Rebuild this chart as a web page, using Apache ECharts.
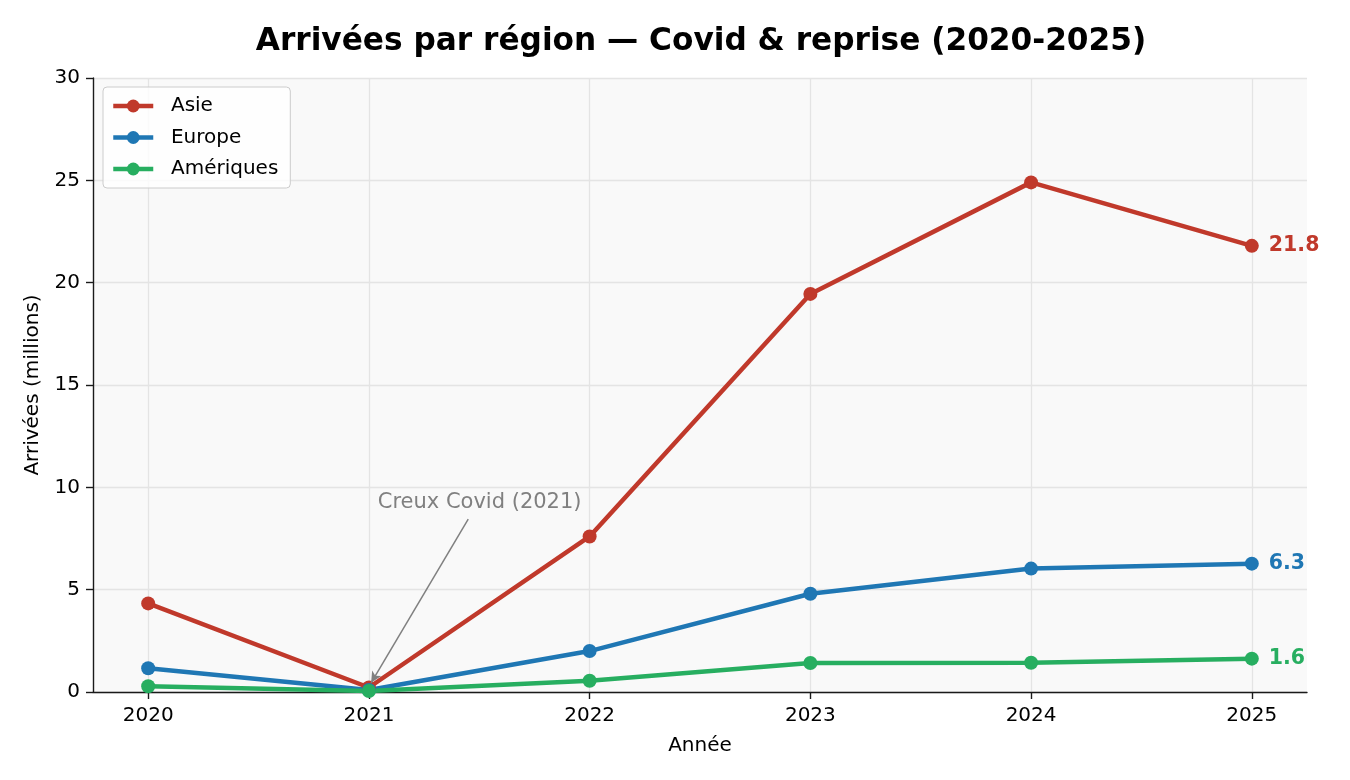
<!DOCTYPE html>
<html>
<head>
<meta charset="utf-8">
<script src="https://cdn.jsdelivr.net/npm/echarts@6/dist/echarts.min.js"></script>
<style>
html,body{margin:0;padding:0;background:#fff;}
#chart{width:1350px;height:780px;}
</style>
</head>
<body>
<div id="chart"></div>
<script>
const years = [2020, 2021, 2022, 2023, 2024, 2025];
const asie = [4.33, 0.22, 7.6, 19.45, 24.9, 21.8];
const europe = [1.16, 0.1, 2.0, 4.8, 6.03, 6.27];
const ameriques = [0.28, 0.05, 0.55, 1.42, 1.43, 1.63];
const seriesNames = ['Asie', 'Europe', 'Amériques'];
const seriesColors = ['#c0392b', '#1f77b4', '#27ae60'];
const annotationText = 'Creux Covid (2021)';
const annotationTextPos = [2021.04, 9.25];
const annotationArrowFrom = [2021.45, 8.45];
const annotationArrowTo = [2021.01, 0.45];

const FONT = 'DejaVu Sans';
const chart = echarts.init(document.getElementById('chart'), null, {renderer: 'canvas'});

function pairs(vals) { return years.map((y, i) => [y, vals[i]]); }

function makeSeries(name, vals, color, extra) {
  return Object.assign({
    name: name,
    type: 'line',
    data: pairs(vals),
    symbol: 'circle',
    symbolSize: 14,
    showSymbol: true,
    lineStyle: {width: 4.5, color: color},
    itemStyle: {color: color},
    emphasis: {disabled: true},
    animation: false,
    z: 3,
    endLabel: {
      show: true,
      formatter: p => p.value[1].toFixed(1),
      color: color,
      fontFamily: FONT,
      fontWeight: 'bold',
      fontSize: 20.5,
      distance: 17
    }
  }, extra || {});
}

const option = {
  backgroundColor: '#ffffff',
  animation: false,
  title: {
    text: 'Arrivées par région — Covid & reprise (2020-2025)',
    left: 696,
    textAlign: 'center',
    top: 21,
    textStyle: {fontFamily: FONT, fontWeight: 'bold', fontSize: 31.2, color: '#000'}
  },
  grid: {
    left: 93, right: 43, top: 78, bottom: 88,
    show: true, backgroundColor: '#f9f9f9', borderWidth: 0
  },
  legend: {
    left: 103, top: 87,
    orient: 'vertical',
    data: seriesNames,
    itemWidth: 40, itemHeight: 16, itemGap: 9.5,
    padding: [8, 12, 8, 8],
    backgroundColor: 'rgba(255,255,255,0.8)',
    borderColor: '#cccccc', borderWidth: 1, borderRadius: 4,
    lineStyle: {width: 4.5},
    formatter: n => '  ' + n,
    textStyle: {fontFamily: FONT, fontSize: 20, color: '#000', lineHeight: 22}
  },
  xAxis: {
    type: 'value',
    min: 2019.75, max: 2025.25,
    name: 'Année',
    nameLocation: 'middle',
    nameGap: 44,
    nameTextStyle: {fontFamily: FONT, fontSize: 20, color: '#000'},
    axisLine: {show: true, lineStyle: {color: '#1a1a1a', width: 1.4}},
    axisTick: {show: true, customValues: years, length: 7, lineStyle: {color: '#1a1a1a', width: 1.4}},
    axisLabel: {customValues: years, formatter: v => String(v), margin: 14, fontFamily: FONT, fontSize: 20, color: '#000'},
    splitLine: {show: true, lineStyle: {color: '#e4e4e4', width: 1.3}}
  },
  yAxis: {
    type: 'value',
    min: 0, max: 30, interval: 5,
    name: 'Arrivées (millions)',
    nameLocation: 'middle',
    nameGap: 50,
    nameTextStyle: {fontFamily: FONT, fontSize: 20, color: '#000'},
    axisLine: {show: true, lineStyle: {color: '#1a1a1a', width: 1.4}},
    axisTick: {show: true, length: 7, lineStyle: {color: '#1a1a1a', width: 1.4}},
    axisLabel: {margin: 13, fontFamily: FONT, fontSize: 20, color: '#000'},
    splitLine: {show: true, lineStyle: {color: '#e4e4e4', width: 1.3}}
  },
  series: [
    makeSeries(seriesNames[0], asie, seriesColors[0], {
      markLine: {
        silent: true,
        animation: false,
        symbol: ['none', 'arrow'],
        symbolSize: [8, 11],
        label: {show: false},
        lineStyle: {color: '#808080', width: 1.5, type: 'solid'},
        emphasis: {disabled: true},
        data: [[{coord: annotationArrowFrom}, {coord: annotationArrowTo}]]
      },
      markPoint: {
        silent: true,
        animation: false,
        symbol: 'circle',
        symbolSize: 0,
        data: [{coord: annotationTextPos}],
        label: {
          show: true,
          position: 'inside',
          formatter: annotationText,
          align: 'left',
          verticalAlign: 'middle',
          fontFamily: FONT,
          fontSize: 21,
          color: '#808080'
        }
      }
    }),
    makeSeries(seriesNames[1], europe, seriesColors[1]),
    makeSeries(seriesNames[2], ameriques, seriesColors[2])
  ]
};
chart.setOption(option);
</script>
</body>
</html>
